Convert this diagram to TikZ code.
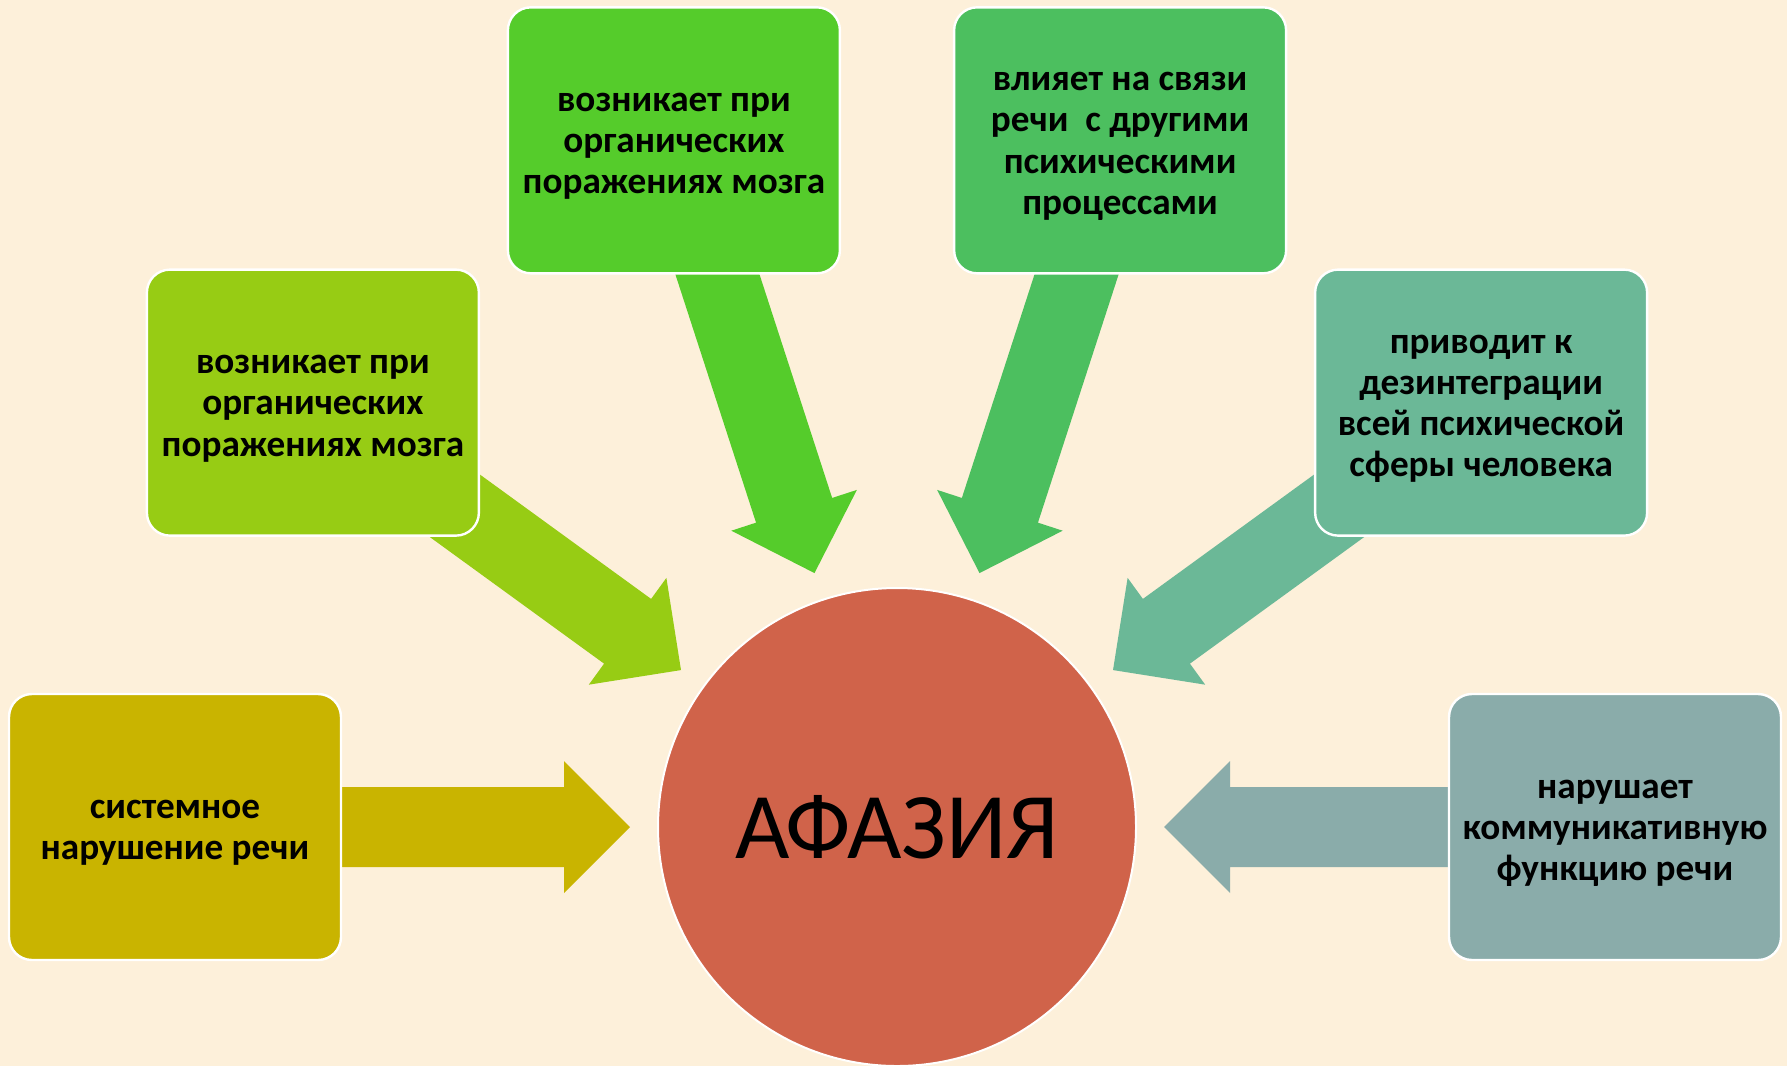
\documentclass[tikz,border=0pt]{standalone}
\usepackage{fontspec}
\setmainfont{Carlito}
\definecolor{bgcol}{HTML}{FDF0DA}
\definecolor{cA}{HTML}{C9B400}
\definecolor{cB}{HTML}{97CC14}
\definecolor{cC}{HTML}{55CC2B}
\definecolor{cD}{HTML}{4CBF5F}
\definecolor{cE}{HTML}{6BB897}
\definecolor{cF}{HTML}{8AACAA}
\definecolor{cR}{HTML}{D0634A}
\pgfdeclarelayer{bglayer}
\pgfdeclarelayer{arrlayer}
\pgfsetlayers{bglayer,arrlayer,main}
\tikzset{
  infobox/.style={draw=white, line width=1.2pt, rounded corners=11.5pt,
    minimum width=166pt, minimum height=133pt, inner sep=0pt},
  boxtext/.style={align=center, inner sep=0pt, text=black,
    font=\fontsize{18.6}{20.6}\selectfont\bfseries},
  hub/.style={circle, draw=white, line width=1pt, fill=cR, minimum size=239pt,
    inner sep=0pt, text=black, font=\fontsize{47}{52}\selectfont}
}
% block arrow from node #2 towards node #3, colour #1
\newcommand\blockarrow[3]{%
  \pgfmathanglebetweenpoints{\pgfpointanchor{#3}{center}}{\pgfpointanchor{#2}{center}}%
  \let\arrang\pgfmathresult
  \fill[#1, shift={(#3.center)}, rotate=\arrang]
    (267,0) -- (333,66) -- (333,40) -- (700,40) -- (700,-40) -- (333,-40) -- (333,-66) -- cycle;
}
\begin{document}
\begin{tikzpicture}[x=0.5pt,y=-0.5pt]
\useasboundingbox (0,0) rectangle (1787,1066);
\begin{pgfonlayer}{bglayer}
  \fill[bgcol] (0,0) rectangle (1787,1066);
\end{pgfonlayer}

\node[hub] (c) at (897,827) {АФАЗИЯ};

\node[infobox, fill=cA] (b1) at ({897+722*cos(180)},{827-722*sin(180)}) {};
\node[infobox, fill=cB] (b2) at ({897+722*cos(144)},{827-722*sin(144)}) {};
\node[infobox, fill=cC] (b3) at ({897+722*cos(108)},{827-722*sin(108)}) {};
\node[infobox, fill=cD] (b4) at ({897+722*cos(72)},{827-722*sin(72)}) {};
\node[infobox, fill=cE] (b5) at ({897+722*cos(36)},{827-722*sin(36)}) {};
\node[infobox, fill=cF] (b6) at ({897+718*cos(0)},{827-722*sin(0)}) {};

\node[boxtext] (t1) at ([yshift=-3pt]b1.center) {системное\\нарушение речи};
\node[boxtext] (t2) at ([yshift=-3pt]b2.center) {возникает при\\органических\\поражениях мозга};
\node[boxtext] (t3) at ([yshift=-3pt]b3.center) {возникает при\\органических\\поражениях мозга};
\node[boxtext] (t4) at ([yshift=-3pt]b4.center) {влияет на связи\\речи\ \ с другими\\психическими\\процессами};
\node[boxtext] (t5) at ([yshift=-3pt]b5.center) {приводит к\\дезинтеграции\\всей психической\\сферы человека};
\node[boxtext] (t6) at ([yshift=-3pt]b6.center) {нарушает\\коммуникативную\\функцию речи};

\begin{pgfonlayer}{arrlayer}
  \blockarrow{cA}{b1}{c}
  \blockarrow{cB}{b2}{c}
  \blockarrow{cC}{b3}{c}
  \blockarrow{cD}{b4}{c}
  \blockarrow{cE}{b5}{c}
  \blockarrow{cF}{b6}{c}
\end{pgfonlayer}
\end{tikzpicture}
\end{document}
